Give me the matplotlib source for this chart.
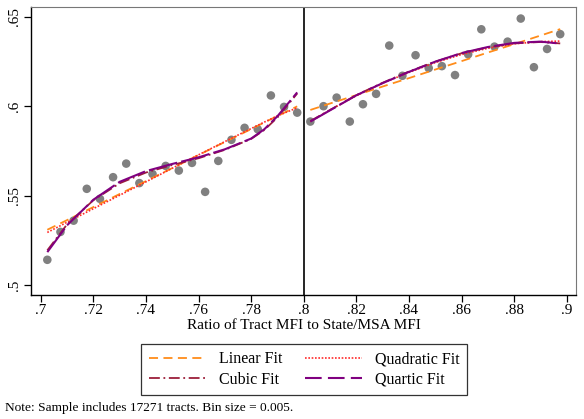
import numpy as np
import matplotlib.pyplot as plt

plt.rcParams['font.family'] = ['Liberation Serif', 'DejaVu Serif']

# Binned means (bin size 0.005), below and above the 0.8 cutoff
x_left = [0.7025, 0.7075, 0.7125, 0.7175, 0.7225, 0.7275, 0.7325, 0.7375, 0.7425, 0.7475,
          0.7525, 0.7575, 0.7625, 0.7675, 0.7725, 0.7775, 0.7825, 0.7875, 0.7925, 0.7975]
y_left = [0.5142, 0.5298, 0.5361, 0.5539, 0.5483, 0.5604, 0.5680, 0.5571, 0.5622, 0.5667,
          0.5641, 0.5684, 0.5522, 0.5695, 0.5813, 0.5880, 0.5872, 0.6061, 0.5997, 0.5965]
x_right = [0.8025, 0.8075, 0.8125, 0.8175, 0.8225, 0.8275, 0.8325, 0.8375, 0.8425, 0.8475,
           0.8525, 0.8575, 0.8625, 0.8675, 0.8725, 0.8775, 0.8825, 0.8875, 0.8925, 0.8975]
y_right = [0.5915, 0.6001, 0.6049, 0.5915, 0.6012, 0.6070, 0.6340, 0.6171, 0.6286, 0.6214,
           0.6225, 0.6175, 0.6291, 0.6431, 0.6334, 0.6362, 0.6491, 0.6219, 0.6321, 0.6404]

# Fitted curves, left of cutoff
fx_left = [0.7025, 0.71, 0.72, 0.73, 0.74, 0.75, 0.76, 0.77, 0.78, 0.785, 0.79, 0.7975]
lin_left = [0.5310, 0.5364, 0.5437, 0.5510, 0.5582, 0.5655, 0.5728, 0.5801, 0.5873, 0.5910, 0.5946, 0.6000]
quad_left = [0.5295, 0.5352, 0.5428, 0.5503, 0.5578, 0.5654, 0.5729, 0.5803, 0.5876, 0.5912, 0.5947, 0.5992]
cub_left = [0.5195, 0.5340, 0.5475, 0.5570, 0.5630, 0.5672, 0.5710, 0.5757, 0.5818, 0.5868, 0.5938, 0.6072]
quar_left = [0.5185, 0.5335, 0.5478, 0.5578, 0.5638, 0.5678, 0.5715, 0.5760, 0.5820, 0.5872, 0.5945, 0.6078]

# Fitted curves, right of cutoff
fx_right = [0.8025, 0.81, 0.82, 0.83, 0.84, 0.85, 0.86, 0.87, 0.88, 0.89, 0.8975]
lin_right = [0.5980, 0.6016, 0.6063, 0.6111, 0.6158, 0.6206, 0.6253, 0.6301, 0.6348, 0.6396, 0.6432]
quad_right = [0.5915, 0.5980, 0.6060, 0.6130, 0.6190, 0.6245, 0.6290, 0.6325, 0.6350, 0.6362, 0.6365]
cub_right = [0.5918, 0.5980, 0.6063, 0.6132, 0.6195, 0.6250, 0.6297, 0.6330, 0.6352, 0.6360, 0.6352]
quar_right = [0.5915, 0.5978, 0.6062, 0.6130, 0.6193, 0.6250, 0.6298, 0.6332, 0.6355, 0.6362, 0.6351]

xticks = [0.7, 0.72, 0.74, 0.76, 0.78, 0.8, 0.82, 0.84, 0.86, 0.88, 0.9]
xticklabels = ['.7', '.72', '.74', '.76', '.78', '.8', '.82', '.84', '.86', '.88', '.9']
yticks = [0.5, 0.55, 0.6, 0.65]
yticklabels = ['.5', '.55', '.6', '.65']

col_lin = '#ff8c1a'
col_quad = '#ff2a2a'
col_cub = '#9c1f3a'
col_quar = '#800080'

fig = plt.figure(figsize=(5.84, 4.19), dpi=100)
ax = fig.add_axes([0.0531, 0.2967, 0.9332, 0.6859])

ax.scatter(x_left, y_left, s=38, color='#808080', edgecolors='none', zorder=2)
ax.scatter(x_right, y_right, s=38, color='#808080', edgecolors='none', zorder=2)

for fx, lin, quad, cub, quar in [(fx_left, lin_left, quad_left, cub_left, quar_left),
                                 (fx_right, lin_right, quad_right, cub_right, quar_right)]:
    ax.plot(fx, lin, color=col_lin, lw=1.3, dashes=(5, 3), zorder=3)
    ax.plot(fx, quad, color=col_quad, lw=1.2, dashes=(1, 1), zorder=3)
    ax.plot(fx, cub, color=col_cub, lw=1.3, dashes=(6, 2, 1, 2), zorder=3)
    ax.plot(fx, quar, color=col_quar, lw=1.5, dashes=(14, 2), zorder=4)

ax.axvline(0.8, color='black', lw=1.2, zorder=1)

ax.set_xlim(0.6963, 0.9035)
ax.set_ylim(0.4947, 0.6554)
ax.set_xticks(xticks)
ax.set_xticklabels(xticklabels)
ax.set_yticks(yticks)
ax.set_yticklabels(yticklabels, rotation=90, va='center')
ax.tick_params(direction='out', length=5, width=0.9, labelsize=11, pad=2)
ax.set_xlabel('Ratio of Tract MFI to State/MSA MFI', fontsize=11, labelpad=1)

for s in ['top', 'right']:
    ax.spines[s].set_color('#777777')
for s in ['left', 'bottom']:
    ax.spines[s].set_color('black')
    ax.spines[s].set_linewidth(1.0)

handles = [
    plt.Line2D([], [], color=col_lin, lw=1.3, dashes=(5, 3)),
    plt.Line2D([], [], color=col_cub, lw=1.3, dashes=(6, 2, 1, 2)),
    plt.Line2D([], [], color=col_quad, lw=1.2, dashes=(1, 1)),
    plt.Line2D([], [], color=col_quar, lw=1.5, dashes=(8, 3)),
]
labels = ['Linear Fit', 'Cubic Fit', 'Quadratic Fit', 'Quartic Fit']
leg = fig.legend(handles, labels, ncol=2, loc='center', bbox_to_anchor=(304 / 584, 1 - 369.5 / 419),
                 fontsize=11.5, frameon=True, fancybox=False, edgecolor='black',
                 handlelength=3.6, handletextpad=0.8, columnspacing=1.4,
                 labelspacing=0.3, borderpad=0.45)
leg.get_frame().set_linewidth(0.9)

fig.text(0.008, 1 - 408 / 419, 'Note: Sample includes 17271 tracts. Bin size = 0.005.',
         fontsize=9.6, va='center', ha='left')

fig.savefig('out.png', dpi=100)
